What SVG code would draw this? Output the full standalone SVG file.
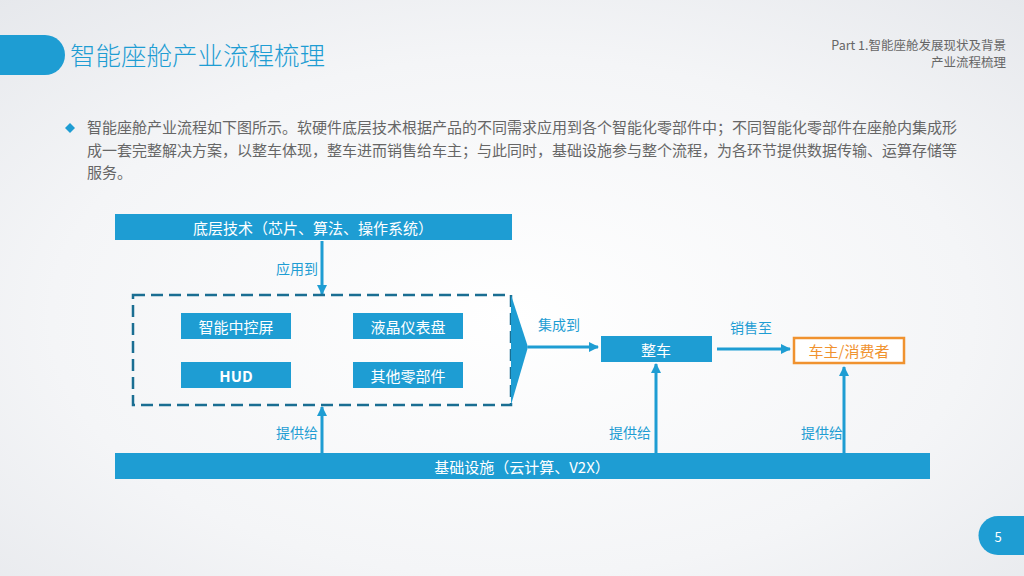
<svg xmlns="http://www.w3.org/2000/svg" width="1024" height="576" viewBox="0 0 1024 576">
<defs>
<radialGradient id="bg" cx="0.5" cy="0.55" r="0.75">
<stop offset="0" stop-color="#FFFFFF"/>
<stop offset="0.6" stop-color="#F4F5F7"/>
<stop offset="1" stop-color="#E6E8EC"/>
</radialGradient>
<marker id="ah" viewBox="0 0 10 10" refX="9" refY="5" markerWidth="10" markerHeight="10" markerUnits="userSpaceOnUse" orient="auto">
<path d="M0,0 L10,5 L0,10 z" fill="#1E9DD3"/>
</marker>
<style>
.cjk{font-family:"Noto Sans CJK SC","Liberation Sans",sans-serif;}
.bar{fill:#1E9DD3;}
.wt{fill:#FFFFFF;font-size:15px;text-anchor:middle;dominant-baseline:central;}
.lbl{fill:#1E9DD3;font-size:14px;text-anchor:end;dominant-baseline:central;}
.con{stroke:#1E9DD3;stroke-width:3;fill:none;marker-end:url(#ah);}
.body{fill:#666666;font-size:15px;}
</style>
</defs>
<rect x="0" y="0" width="1024" height="576" fill="url(#bg)"/>
<g id="header">
<path d="M0,35 H45 A20,20 0 0 1 45,75 H0 z" fill="#1E9DD3"/>
<text x="70" y="65" class="cjk" font-size="25.5" font-weight="300" fill="#1E9DD3">智能座舱产业流程梳理</text>
<text x="1006" y="50" class="cjk" font-size="12.5" fill="#666666" text-anchor="end">Part 1.智能座舱发展现状及背景</text>
<text x="1006" y="67" class="cjk" font-size="12.5" fill="#666666" text-anchor="end">产业流程梳理</text>
</g>
<g id="bullet">
<path d="M70,123 L75,128 L70,133 L65,128 z" fill="#1E9DD3"/>
<text x="87" y="133" class="cjk body">智能座舱产业流程如下图所示。软硬件底层技术根据产品的不同需求应用到各个智能化零部件中；不同智能化零部件在座舱内集成形</text>
<text x="87" y="156" class="cjk body">成一套完整解决方案，以整车体现，整车进而销售给车主；与此同时，基础设施参与整个流程，为各环节提供数据传输、运算存储等</text>
<text x="87" y="178" class="cjk body">服务。</text>
</g>
<g id="connectors">
<line x1="322" y1="241" x2="322" y2="294" class="con"/>
<line x1="322" y1="453" x2="322" y2="407" class="con"/>
<line x1="528" y1="347" x2="598" y2="347" class="con"/>
<line x1="717" y1="349" x2="790" y2="349" class="con"/>
<line x1="656" y1="453" x2="656" y2="364" class="con"/>
<line x1="844" y1="453" x2="844" y2="367" class="con"/>
<text x="318" y="268" class="cjk lbl">应用到</text>
<text x="580" y="324" class="cjk lbl">集成到</text>
<text x="772" y="327" class="cjk lbl">销售至</text>
<text x="318" y="432" class="cjk lbl">提供给</text>
<text x="651" y="432" class="cjk lbl">提供给</text>
<text x="843" y="432" class="cjk lbl">提供给</text>
</g>
<g id="node-base-tech">
<rect x="115" y="214" width="397" height="26" class="bar"/>
<text x="313" y="227" class="cjk wt">底层技术（芯片、算法、操作系统）</text>
</g>
<g id="node-components">
<rect x="133" y="295" width="378" height="110" fill="none" stroke="#1A6E92" stroke-width="2.5" stroke-dasharray="12,6"/>
<path d="M511,295 L528,347 L511,405 z" fill="#1E9DD3"/>
</g>
<g id="node-screen">
<rect x="181" y="313" width="110" height="26" class="bar"/>
<text x="236" y="326" class="cjk wt">智能中控屏</text>
</g>
<g id="node-cluster">
<rect x="353" y="313" width="110" height="26" class="bar"/>
<text x="408" y="326" class="cjk wt">液晶仪表盘</text>
</g>
<g id="node-hud">
<rect x="181" y="362" width="110" height="26" class="bar"/>
<text x="236" y="375" class="cjk wt" font-weight="bold">HUD</text>
</g>
<g id="node-other">
<rect x="353" y="362" width="110" height="26" class="bar"/>
<text x="408" y="375" class="cjk wt">其他零部件</text>
</g>
<g id="node-vehicle">
<rect x="601" y="336" width="111" height="26" class="bar"/>
<text x="656" y="349" class="cjk wt">整车</text>
</g>
<g id="node-owner">
<rect x="794" y="338" width="110" height="25" fill="#FFFFFF" stroke="#F0922F" stroke-width="2.5"/>
<text x="849" y="350.5" class="cjk wt" style="fill:#F0922F">车主/消费者</text>
</g>
<g id="node-infra">
<rect x="115" y="453" width="815" height="26" class="bar"/>
<text x="522" y="466" class="cjk wt">基础设施（云计算、V2X）</text>
</g>
<g id="page">
<path d="M1024,516 H998 A19.5,19.5 0 0 0 998,555 H1024 z" fill="#1E9DD3"/>
<text x="998" y="536" class="cjk" font-size="13" fill="#FFFFFF" text-anchor="middle" dominant-baseline="central">5</text>
</g>
</svg>
